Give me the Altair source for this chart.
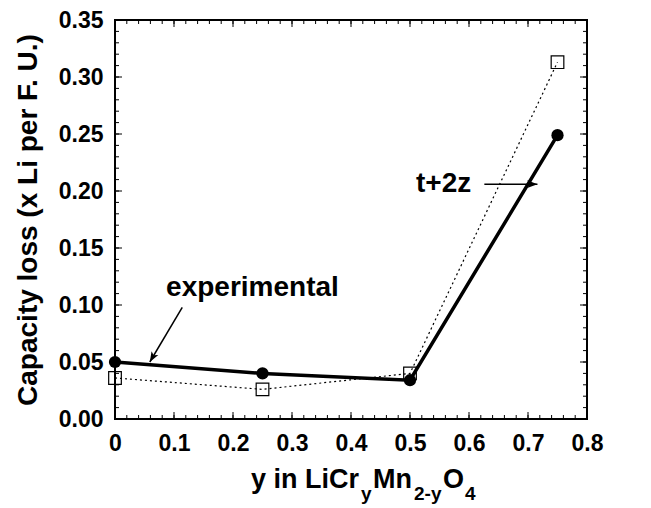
import altair as alt
import pandas as pd

# ---- data ----
y_comp = [0.0, 0.25, 0.5, 0.75]
exp_loss = [0.050, 0.040, 0.034, 0.249]
calc_loss = [0.036, 0.026, 0.040, 0.313]

x_major = [0.0, 0.1, 0.2, 0.3, 0.4, 0.5, 0.6, 0.7, 0.8]
y_major = [0.0, 0.05, 0.10, 0.15, 0.20, 0.25, 0.30, 0.35]
x_minor = [round(0.02 * i, 2) for i in range(41)]
y_minor = [round(0.01 * i, 2) for i in range(36)]

# annotation anchors (data coordinates)
ann_text = ["experimental", "t+2z"]
ann_tx = [0.233, 0.557]
ann_ty = [0.1145, 0.206]
arrow_x1 = [0.114, 0.626]
arrow_y1 = [0.098, 0.206]
arrow_x2 = [0.059, 0.716]
arrow_y2 = [0.050, 0.206]
arrow_angle = [120, 0]

W, H = 472, 399
FONT = "Liberation Sans"
xs = alt.Scale(domain=[0, 0.8], nice=False, zero=False)
ys = alt.Scale(domain=[0, 0.35], nice=False, zero=False)

x_axis = alt.Axis(values=x_major, labelExpr="datum.value == 0 ? '0' : format(datum.value, '.1f')",
                  labelFont=FONT, labelFontSize=23, labelFontWeight="bold", labelColor="black",
                  ticks=False, domain=False, grid=False, title=None, labelPadding=13,
                  labelFlush=False)
y_axis = alt.Axis(values=y_major, format=".2f",
                  labelFont=FONT, labelFontSize=23, labelFontWeight="bold", labelColor="black",
                  ticks=False, domain=False, grid=False, labelPadding=12,
                  title="Capacity loss (x Li per F. U.)", titleFont=FONT, titleFontSize=28,
                  titleFontWeight="bold", titleColor="black", titleX=-79, titleY=H / 2,
                  titleAlign="center", titleBaseline="alphabetic", titleAngle=270)


def X(field):
    return alt.X(field, scale=xs, axis=x_axis)


def Y(field):
    return alt.Y(field, scale=ys, axis=y_axis)


df_exp = pd.DataFrame({"y": y_comp, "loss": exp_loss})
df_calc = pd.DataFrame({"y": y_comp, "loss": calc_loss})

calc_line = alt.Chart(df_calc).mark_line(color="black", strokeWidth=1.2, strokeDash=[2, 3]).encode(
    x=X("y:Q"), y=Y("loss:Q"))
calc_pts = alt.Chart(df_calc).mark_point(shape="square", filled=False, color="black",
                                         strokeWidth=1.2, size=160, opacity=1).encode(
    x=X("y:Q"), y=Y("loss:Q"))
exp_line = alt.Chart(df_exp).mark_line(color="black", strokeWidth=3.5).encode(
    x=X("y:Q"), y=Y("loss:Q"))
exp_pts = alt.Chart(df_exp).mark_point(shape="circle", filled=True, color="black",
                                       size=150, opacity=1).encode(
    x=X("y:Q"), y=Y("loss:Q"))


def xticks(vals, L):
    d = pd.DataFrame({"y": vals})
    b = alt.Chart(d).mark_rule(color="black", strokeWidth=1).encode(
        x=X("y:Q"), y=alt.value(H), y2=alt.value(H - L))
    t = alt.Chart(d).mark_rule(color="black", strokeWidth=1).encode(
        x=X("y:Q"), y=alt.value(0), y2=alt.value(L))
    return [b, t]


def yticks(vals, L):
    d = pd.DataFrame({"loss": vals})
    l = alt.Chart(d).mark_rule(color="black", strokeWidth=1).encode(
        y=Y("loss:Q"), x=alt.value(0), x2=alt.value(L))
    r = alt.Chart(d).mark_rule(color="black", strokeWidth=1).encode(
        y=Y("loss:Q"), x=alt.value(W), x2=alt.value(W - L))
    return [l, r]


ticks = xticks(x_major, 7) + xticks(x_minor, 4) + yticks(y_major, 7) + yticks(y_minor, 4)

df_ann = pd.DataFrame({"text": ann_text, "y": ann_tx, "loss": ann_ty})
ann = alt.Chart(df_ann).mark_text(font=FONT, fontSize=28, fontWeight="bold", color="black",
                                  align="center", baseline="middle").encode(
    x=X("y:Q"), y=Y("loss:Q"), text="text:N")

df_arr = pd.DataFrame({"y": arrow_x1, "loss": arrow_y1, "y_end": arrow_x2, "loss_end": arrow_y2,
                       "ang": arrow_angle})
arr_line = alt.Chart(df_arr).mark_rule(color="black", strokeWidth=1.5).encode(
    x=X("y:Q"), y=Y("loss:Q"), x2="y_end:Q", y2="loss_end:Q")
df_head = pd.DataFrame({"y": arrow_x2, "loss": arrow_y2, "ang": arrow_angle})
arr_head = alt.Chart(df_head).mark_point(shape="M0,0L-1,-0.38L-0.75,0L-1,0.38Z", filled=True,
                                         color="black", size=420, opacity=1).encode(
    x=X("y:Q"), y=Y("loss:Q"), angle=alt.Angle("ang:Q", scale=None))

# x-axis title with subscripts: LiCr_y Mn_{2-y} O_4
seg_text = ["y in LiCr", "y", "Mn", "2-y", "O", "4"]
seg_x = [136, 246, 258, 299, 328, 350]
seg_sub = [False, True, False, True, False, True]
title_layers = []
for t, sx, sub in zip(seg_text, seg_x, seg_sub):
    title_layers.append(
        alt.Chart(pd.DataFrame({"t": [t]})).mark_text(
            font=FONT, fontSize=19 if sub else 27, fontWeight="bold", color="black",
            align="left", baseline="alphabetic").encode(
            x=alt.value(sx), y=alt.value(480 if sub else 468), text="t:N"))

chart = alt.layer(calc_line, *ticks, exp_line, calc_pts, exp_pts, arr_line, arr_head, ann,
                  *title_layers).properties(
    width=W, height=H,
    background="white",
    autosize=alt.AutoSizeParams(type="none"),
    padding={"left": 115, "top": 20, "right": 64, "bottom": 89},
).configure_view(stroke="black", strokeWidth=2)

chart.save("out.html", embed_options={"renderer": "svg", "actions": False})
